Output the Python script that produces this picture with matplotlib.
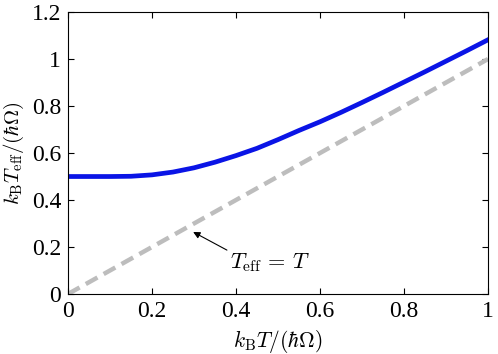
import matplotlib
matplotlib.use("Agg")
import matplotlib.pyplot as plt
from matplotlib.ticker import FuncFormatter

plt.rcParams['font.family'] = ['Liberation Serif', 'DejaVu Serif']
plt.rcParams['mathtext.fontset'] = 'cm'

# values
temp = [0.0, 0.05, 0.1, 0.15, 0.2, 0.25, 0.3, 0.35, 0.4, 0.45, 0.5,
        0.55, 0.6, 0.65, 0.7, 0.75, 0.8, 0.85, 0.9, 0.95, 1.0]
teff = [0.5, 0.5, 0.5, 0.501, 0.507, 0.519, 0.537, 0.561, 0.589, 0.620, 0.657,
        0.696, 0.733, 0.773, 0.815, 0.858, 0.902, 0.946, 0.991, 1.036, 1.082]
diag_x = [0.0, 1.0]
diag_y = [0.0, 1.0]

fig = plt.figure(figsize=(4.98, 3.54), dpi=100)
ax = fig.add_axes([0.1365, 0.1695, 0.8435, 0.7965])

ax.plot(diag_x, diag_y, color='#bdbdbd', lw=3.2, dashes=(3, 1.6))
ax.plot(temp, teff, color='#0a14e6', lw=3.4)

ax.set_xlim(0, 1)
ax.set_ylim(0, 1.2)
ax.set_xticks([0, 0.2, 0.4, 0.6, 0.8, 1])
ax.set_yticks([0, 0.2, 0.4, 0.6, 0.8, 1, 1.2])
fmt = FuncFormatter(lambda v, p: ('%g' % round(v, 2)))
ax.xaxis.set_major_formatter(fmt)
ax.yaxis.set_major_formatter(fmt)
ax.tick_params(direction='in', top=True, right=True, labelsize=17, length=4, pad=5)

ax.set_xlabel(r'$k_{\rm B}T/(\hbar\Omega)$', fontsize=15.5)
ax.xaxis.set_label_coords(0.5, -0.12)
ax.set_ylabel(r'$k_{\rm B}T_{\rm eff}/(\hbar\Omega)$', fontsize=15)
ax.yaxis.set_label_coords(-0.1, 0.5)

ax.annotate(r'$T_{\rm eff}\,=\,T$', xy=(0.298, 0.264), xytext=(0.385, 0.132),
            fontsize=16, va='center',
            arrowprops=dict(arrowstyle='-|>', color='black', lw=0.8, shrinkA=0, shrinkB=0,
                            mutation_scale=10, relpos=(0.0, 1.0)))

fig.savefig('out.png', dpi=100)
